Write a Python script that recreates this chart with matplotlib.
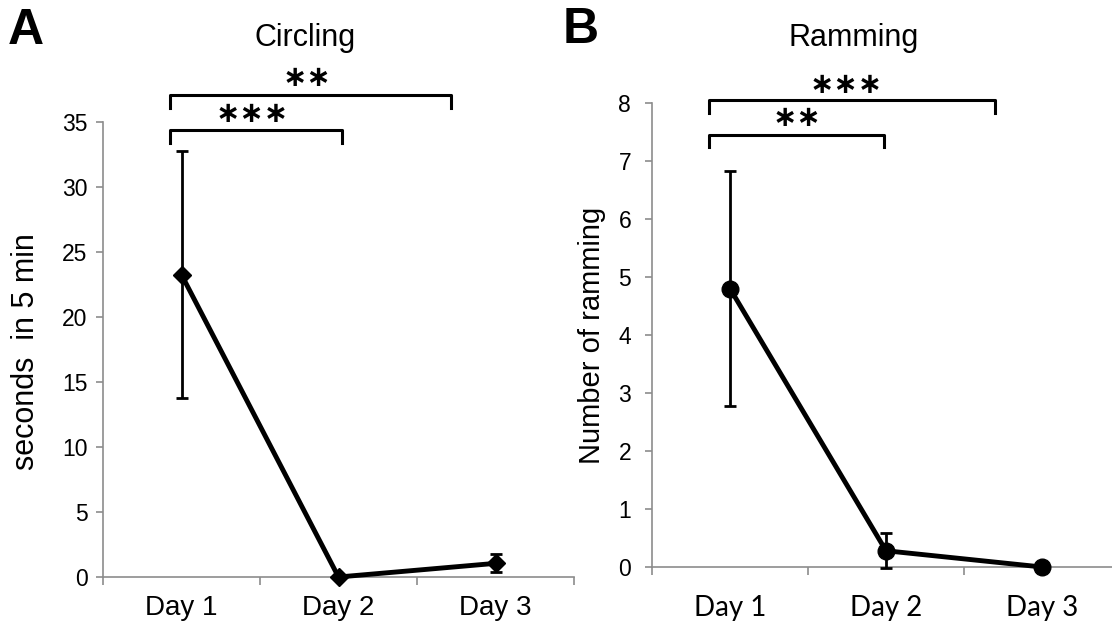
import matplotlib
matplotlib.use("Agg")
import matplotlib.pyplot as plt
import numpy as np

days = ["Day 1", "Day 2", "Day 3"]
circling_mean = [23.25, 0.0, 1.05]
circling_err = [9.5, 0.0, 0.7]
ramming_mean = [4.8, 0.28, 0.0]
ramming_err = [2.03, 0.3, 0.0]
circling_yticks = [0, 5, 10, 15, 20, 25, 30, 35]
ramming_yticks = [0, 1, 2, 3, 4, 5, 6, 7, 8]

plt.rcParams['font.family'] = ['Liberation Sans', 'DejaVu Sans']
GRAY = '#8c8c8c'

fig = plt.figure(figsize=(11.12, 6.32), dpi=100)
W, H = 1112, 632

def px_axes(left, right, top, bottom):
    return fig.add_axes([left / W, 1 - bottom / H, (right - left) / W, (bottom - top) / H])

axA = px_axes(103, 574, 122, 577)
axB = px_axes(652, 1120, 103, 567)

x = np.arange(len(days))

def style(ax, yticks, ypad, xpad, xfont):
    ax.set_xlim(-0.5, 2.5)
    ax.set_ylim(yticks[0], yticks[-1])
    for s in ['top', 'right']:
        ax.spines[s].set_visible(False)
    for s in ['left', 'bottom']:
        ax.spines[s].set_color(GRAY)
        ax.spines[s].set_linewidth(1.2)
    ax.set_yticks(yticks)
    ax.set_yticklabels([str(v) for v in yticks])
    ax.tick_params(axis='y', direction='out', length=5, width=1.2, color=GRAY,
                   labelsize=16.5, pad=ypad)
    ax.set_xticks([-0.5, 0.5, 1.5, 2.5])
    ax.set_xticklabels([])
    ax.tick_params(axis='x', which='major', direction='out', length=6, width=1.2, color=GRAY)
    ax.set_xticks(x, minor=True)
    ax.set_xticklabels(days, minor=True, fontsize=20, family=xfont)
    ax.tick_params(axis='x', which='minor', length=0, pad=xpad)

style(axA, circling_yticks, 6, 13, ['Liberation Sans'])
style(axB, ramming_yticks, 10, 20, ['Lato', 'DejaVu Sans'])

axA.errorbar(x, circling_mean, yerr=circling_err, color='black', lw=3.5,
             marker='D', markersize=9, elinewidth=2, capsize=4, capthick=2,
             clip_on=False, zorder=5)
axB.errorbar(x, ramming_mean, yerr=ramming_err, color='black', lw=3.5,
             marker='o', markersize=12, elinewidth=2, capsize=4, capthick=2,
             clip_on=False, zorder=5)

def bracket(ax, x0, x1, ytop, ybot):
    ax.plot([x0, x0, x1, x1], [ybot, ytop, ytop, ybot], color='black', lw=2.2,
            clip_on=False, solid_joinstyle='round')

def stars(ax, xc, yc, s):
    ax.text(xc, yc, s, ha='center', va='center', fontsize=21, fontweight='bold',
            family=['DejaVu Sans'], clip_on=False)

# Panel A annotations
bracket(axA, -0.073, 1.716, 37.08, 36.1)
bracket(axA, -0.073, 1.022, 34.38, 33.35)
stars(axA, 0.80, 38.4, '\u2217\u2217')
stars(axA, 0.45, 35.6, '\u2217\u2217\u2217')

# Panel B annotations
bracket(axB, -0.135, 1.699, 8.05, 7.83)
bracket(axB, -0.135, 0.987, 7.45, 7.24)
stars(axB, 0.744, 8.31, '\u2217\u2217\u2217')
stars(axB, 0.43, 7.74, '\u2217\u2217')

# titles and labels
fig.text(305 / W, 1 - 38 / H, 'Circling', ha='center', va='center', fontsize=22)
fig.text(854 / W, 1 - 38 / H, 'Ramming', ha='center', va='center', fontsize=22)
fig.text(8 / W, 1 - 31 / H, 'A', ha='left', va='center', fontsize=36, fontweight='bold')
fig.text(563 / W, 1 - 30 / H, 'B', ha='left', va='center', fontsize=36, fontweight='bold')
fig.text(26 / W, 1 - 352 / H, 'seconds  in 5 min', ha='center', va='center',
         rotation=90, fontsize=22)
fig.text(592 / W, 1 - 335 / H, 'Number of ramming', ha='center', va='center',
         rotation=90, fontsize=21)

fig.savefig('out.png', dpi=100)
